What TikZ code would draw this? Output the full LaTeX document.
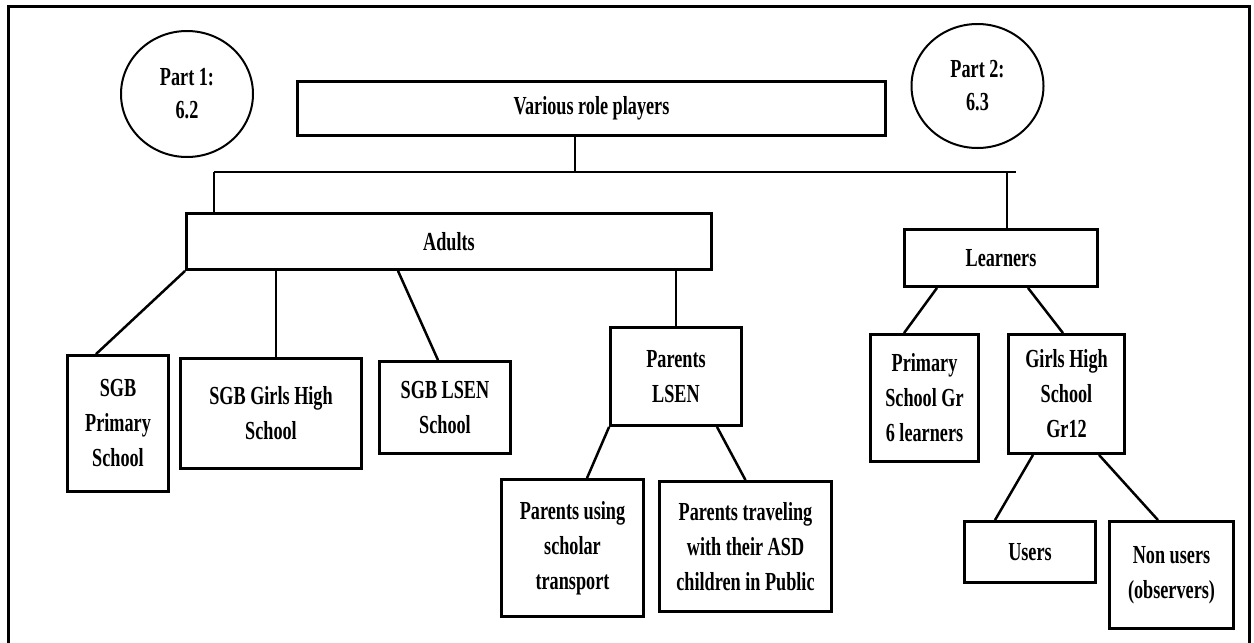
\documentclass[tikz,border=0pt]{standalone}
\usepackage{fontspec}
\setmainfont{Liberation Serif}[FakeStretch=0.7]
\usetikzlibrary{shapes.geometric}

\begin{document}
\begin{tikzpicture}[x=1pt, y=-1pt,
  every node/.style={font=\fontsize{26}{35}\selectfont\bfseries, align=center, inner sep=0pt},
  box/.style={draw, rectangle, line width=2.8pt},
  partoval/.style={draw, ellipse, line width=2pt, font=\fontsize{26}{33}\selectfont\bfseries},
  link/.style={line width=2.5pt}]

\useasboundingbox (0,0) rectangle (1254,643);

% outer frame (open at the bottom edge of the page)
\draw[line width=3pt, line join=miter] (8,643) -- (8,6) -- (1249,6) -- (1249,643);

% part markers
\node[partoval, minimum width=132pt, minimum height=126pt] (part1) at (187,94) {Part 1:\\6.2};
\node[partoval, minimum width=132pt, minimum height=124pt] (part2) at (977.5,86) {Part 2:\\6.3};

% top level
\node[box, minimum width=588pt, minimum height=54pt] (vrp) at (591.5,108.5) {Various role players};

% second level
\node[box, minimum width=525pt, minimum height=56pt] (adults) at (449,241.5) {Adults};
\node[box, minimum width=193pt, minimum height=57pt] (learners) at (1001,258) {Learners};

% adults' groups
\node[box, minimum width=101pt, minimum height=136pt] (sgbp) at (118,423.5) {SGB\\Primary\\School};
\node[box, minimum width=181pt, minimum height=110pt] (sgbg) at (271,413.5) {SGB Girls High\\School};
\node[box, minimum width=131pt, minimum height=92pt] (sgbl) at (445,407.5) {SGB LSEN\\School};
\node[box, minimum width=131pt, minimum height=98pt] (plsen) at (676,376.5) {Parents\\LSEN};
\node[box, minimum width=142pt, minimum height=137pt] (pusing) at (572.5,548) {Parents using\\scholar\\transport};
\node[box, minimum width=172pt, minimum height=130pt] (ptrav) at (745.5,546.5) {Parents traveling\\with their ASD\\children in Public};

% learners' groups
\node[box, minimum width=108pt, minimum height=127pt] (psgr) at (924.5,398) {Primary\\School Gr\\6 learners};
\node[box, minimum width=116pt, minimum height=119pt] (ghs) at (1066.5,394) {Girls High\\School\\Gr12};
\node[box, minimum width=131pt, minimum height=61pt] (users) at (1030,552) {Users};
\node[box, minimum width=124pt, minimum height=107pt] (nonusers) at (1171.5,575) {Non users\\(observers)};

% branching bar below the top box
\coordinate (barL) at (214,172);
\coordinate (barR) at (1016,172);
\coordinate (vrpdrop) at (575,172);
\coordinate (lrndrop) at (1007,172);
\draw[link] (barL) -- (barR);
\draw[link] (vrpdrop |- vrp.south) -- (vrpdrop);
\draw[link] (barL) -- (barL |- adults.north);
\draw[link] (lrndrop) -- (lrndrop |- learners.north);

% adults connectors
\draw[link] (adults.south west) -- ([xshift=-22pt]sgbp.north);
\draw[link] ([xshift=5pt]sgbg.north |- adults.south) -- ([xshift=5pt]sgbg.north);
\draw[link] ([xshift=-51pt]adults.south) -- ([xshift=-7pt]sgbl.north);
\draw[link] (plsen.north |- adults.south) -- (plsen.north);
\draw[link] (plsen.south west) -- ([xshift=14.5pt]pusing.north);
\draw[link] ([xshift=41pt]plsen.south) -- (ptrav.north);

% learners connectors
\draw[link] ([xshift=-64pt]learners.south) -- ([xshift=-20.5pt]psgr.north);
\draw[link] ([xshift=27pt]learners.south) -- ([xshift=-3.5pt]ghs.north);
\draw[link] ([xshift=-33.5pt]ghs.south) -- ([xshift=-35pt]users.north);
\draw[link] ([xshift=32.5pt]ghs.south) -- ([xshift=-13.5pt]nonusers.north);

\end{tikzpicture}
\end{document}
